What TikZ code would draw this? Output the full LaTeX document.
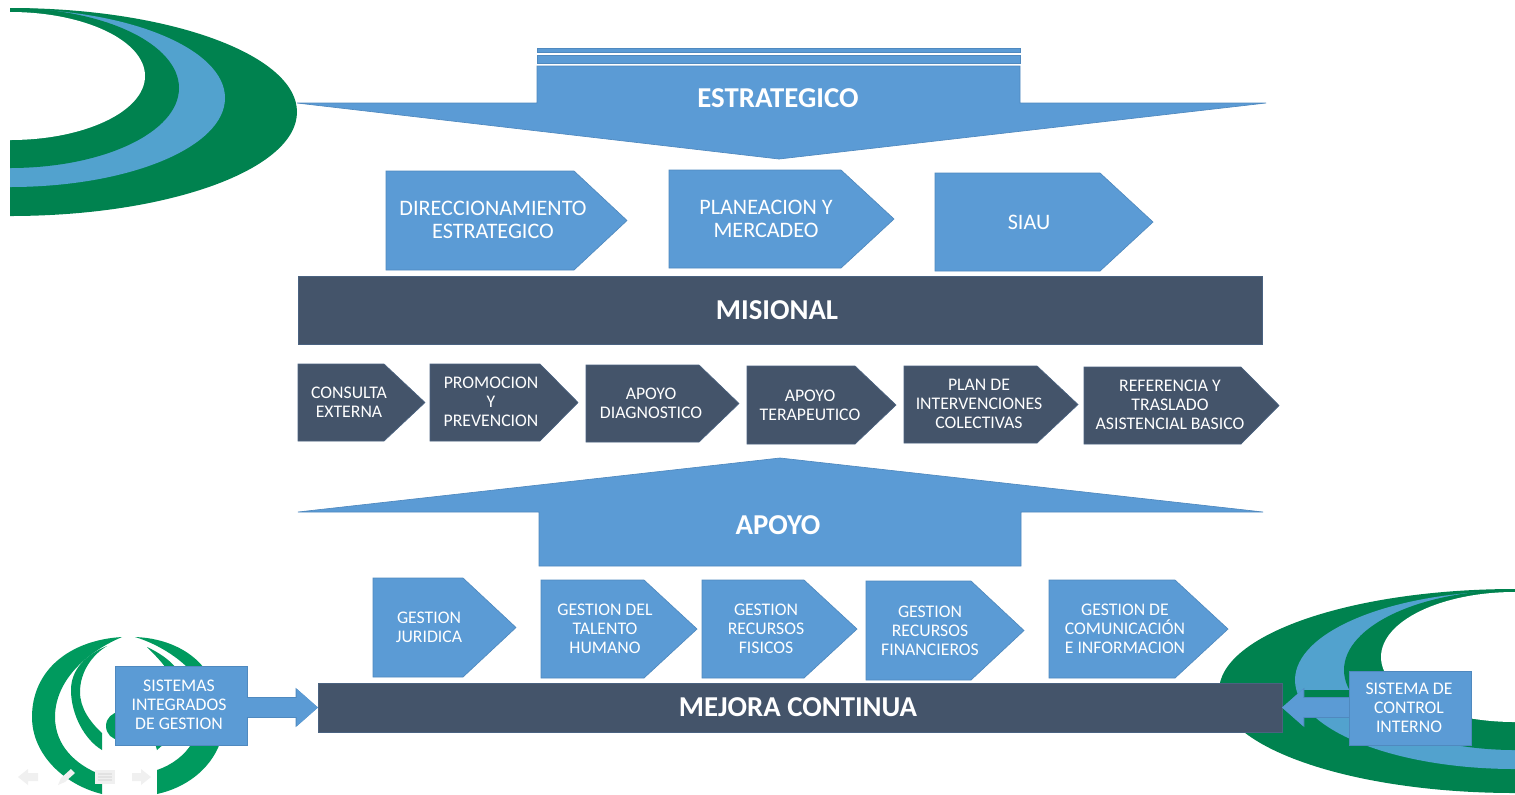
\documentclass[tikz,border=0pt]{standalone}
\usepackage{fontspec}
\setmainfont{Carlito}
\usetikzlibrary{arrows.meta}
\definecolor{pblue}{HTML}{5B9BD5}
\definecolor{pedge}{HTML}{4F89BF}
\definecolor{pdark}{HTML}{44546A}
\definecolor{dedge}{HTML}{4A6280}
\definecolor{lgreen}{HTML}{00824F}
\definecolor{lblue}{HTML}{52A2CE}
\definecolor{cgreen}{HTML}{009A5E}
\definecolor{navgray}{HTML}{F0F0F0}
\definecolor{navline}{HTML}{E2E2E2}
\tikzset{
  x=0.75pt,y=-0.75pt,
  blueshape/.style={fill=pblue,draw=pedge,line width=0.5pt},
  darkshape/.style={fill=pdark,draw=dedge,line width=0.5pt},
  bigtxt/.style={text=white,align=center,font=\fontsize{16.6}{17.3}\selectfont,inner sep=0pt,outer sep=0pt},
  smalltxt/.style={text=white,align=center,font=\fontsize{13.3}{14.2}\selectfont,inner sep=0pt,outer sep=0pt},
  headtxt/.style={text=white,font=\fontsize{21.6}{24}\selectfont\bfseries,inner sep=0pt,outer sep=0pt},
  boxnode/.style={draw=pedge,fill=pblue,line width=0.5pt,inner sep=0pt,outer sep=0pt},
  barnode/.style={draw=dedge,fill=pdark,line width=0.5pt,inner sep=0pt,outer sep=0pt},
  flowarrow/.style={pblue,line width=14.5pt,-{Triangle[length=16pt,width=27pt]},
    preaction={draw=pedge,line width=15.4pt,-{Triangle[length=16.8pt,width=28.5pt]}}},
  navicon/.style={fill=navgray,draw=none}
}
% #1 style, #2 x1, #3 notch, #4 x2, #5 y1, #6 y2
\newcommand{\pentagon}[6]{\pgfmathsetmacro{\ymid}{(#5+#6)/2}\path[#1] (#2,#5) -- (#3,#5) -- (#4,\ymid) -- (#3,#6) -- (#2,#6) -- cycle;}
\begin{document}
\begin{tikzpicture}
\useasboundingbox (0,0) rectangle (1515,794);
\fill[white] (0,0) rectangle (1515,794);
% top-left logo
\begin{scope}
\clip (10,0) rectangle (400,300);
\fill[lgreen] (10,112) ellipse [x radius=287,y radius=104];
\fill[lblue] (10,98) ellipse [x radius=215,y radius=89];
\fill[lgreen] (10,88) ellipse [x radius=169,y radius=80];
\fill[white] (10,76) ellipse [x radius=135,y radius=64];
\end{scope}
% bottom-right logo
\begin{scope}
\clip (1150,560) rectangle (1515,794);
\fill[lgreen] (1515,691) ellipse [x radius=296,y radius=102];
\fill[lblue] (1515,680) ellipse [x radius=220,y radius=89];
\fill[lgreen] (1515,670) ellipse [x radius=171,y radius=80];
\fill[white] (1515,657) ellipse [x radius=134,y radius=65];
\fill[lgreen] (1303,690) rectangle (1350,699);
\end{scope}
% bottom-left logo
\begin{scope}
\fill[cgreen] (122,637) .. controls (70,640) and (32,670) .. (32,717) .. controls (32,755) and (65,785) .. (102,794) -- (102,775) .. controls (75,765) and (55,745) .. (55,717) .. controls (55,685) and (80,655) .. (122,637) -- cycle;
\fill[cgreen] (107,646) .. controls (85,655) and (71,670) .. (71,690) .. controls (71,715) and (85,740) .. (102,750) -- (102,733) .. controls (90,722) and (80,708) .. (80,692) .. controls (80,672) and (92,655) .. (107,646) -- cycle;
\fill[cgreen] (135,637) .. controls (165,638) and (190,650) .. (204,668) -- (188,668) .. controls (175,655) and (155,643) .. (135,637) -- cycle;
\fill[cgreen] (147,647) .. controls (158,652) and (170,660) .. (176,668) -- (166,668) .. controls (160,660) and (153,653) .. (147,647) -- cycle;
\fill[cgreen] (220,743) .. controls (210,770) and (185,788) .. (157,794) -- (157,770) .. controls (172,765) and (185,755) .. (192,743) -- cycle;
\fill[cgreen] (120,726) circle [radius=14];
\fill[cgreen] (155,743) -- (165,743) -- (157,750) -- cycle;
\end{scope}
% ESTRATEGICO
\path[blueshape] (537,48) rectangle (1020,52);
\path[blueshape] (537,55) rectangle (1020,63);
\path[blueshape] (537,66) -- (1020,66) -- (1020,103) -- (1266,103) -- (779,159) -- (297,103) -- (537,103) -- cycle;
\node[headtxt] (estr) at (778,98) {ESTRATEGICO};
% strategic row
\pentagon{blueshape}{386}{574}{627}{171}{270}
\node[bigtxt] (dir) at (493,219.5) {DIRECCIONAMIENTO\\ESTRATEGICO};
\pentagon{blueshape}{669}{841}{894}{170}{268}
\node[bigtxt] (plan) at (766,218.5) {PLANEACION Y\\MERCADEO};
\pentagon{blueshape}{935}{1100}{1153}{173}{271}
\node[bigtxt] (siau) at (1029,222) {SIAU};
% MISIONAL
\node[barnode,minimum width=723pt,minimum height=51pt] (mis) at (780,310) {};
\node[headtxt] (mislabel) at (777,310) {MISIONAL};
\pentagon{darkshape}{298}{384}{425}{364}{441}
\node[smalltxt] (cons) at (349,402) {CONSULTA\\EXTERNA};
\pentagon{darkshape}{430}{540}{578}{364}{441}
\node[smalltxt] (prom) at (491,402) {PROMOCION\\Y\\PREVENCION};
\pentagon{darkshape}{586}{699}{739}{365}{442}
\node[smalltxt] (diag) at (651,403) {APOYO\\DIAGNOSTICO};
\pentagon{darkshape}{747}{855}{896}{366}{444}
\node[smalltxt] (tera) at (810,405) {APOYO\\TERAPEUTICO};
\pentagon{darkshape}{904}{1037}{1078}{366}{443}
\node[smalltxt] (inter) at (979,404) {PLAN DE\\INTERVENCIONES\\COLECTIVAS};
\pentagon{darkshape}{1084}{1241}{1279}{367}{444}
\node[smalltxt] (ref) at (1170,405) {REFERENCIA Y\\TRASLADO\\ASISTENCIAL BASICO};
% APOYO
\path[blueshape] (780,458) -- (1263,512) -- (1021,512) -- (1021,566) -- (539,566) -- (539,512) -- (298,512) -- cycle;
\node[headtxt] (apoyo) at (778,525) {APOYO};
% support row
\pentagon{blueshape}{373}{463}{516}{578}{677}
\node[smalltxt] (jur) at (429,627) {GESTION\\JURIDICA};
\pentagon{blueshape}{541}{644}{697}{580}{678}
\node[smalltxt] (tal) at (605,628.5) {GESTION DEL\\TALENTO\\HUMANO};
\pentagon{blueshape}{702}{804}{857}{580}{678}
\node[smalltxt] (fis) at (766,628.5) {GESTION\\RECURSOS\\FISICOS};
\pentagon{blueshape}{866}{971}{1024}{581}{680}
\node[smalltxt] (fin) at (930,630.5) {GESTION\\RECURSOS\\FINANCIEROS};
\pentagon{blueshape}{1049}{1175}{1228}{580}{678}
\node[smalltxt] (com) at (1125,628.5) {GESTION DE\\COMUNICACIÓN\\E INFORMACION};
% MEJORA CONTINUA
\node[barnode,minimum width=723pt,minimum height=36.75pt] (mej) at (800,707.5) {};
\node[headtxt] (mejlabel) at (798,707) {MEJORA CONTINUA};
% side boxes
\node[boxnode,minimum width=99pt,minimum height=59.25pt] (sis) at (181,705.5) {};
\node[smalltxt] (sislabel) at (179,705) {SISTEMAS\\INTEGRADOS\\DE GESTION};
\node[boxnode,minimum width=91.5pt,minimum height=55.5pt] (ctl) at (1410,708) {};
\node[smalltxt] (ctllabel) at (1409,708) {SISTEMA DE\\CONTROL\\INTERNO};
\draw[flowarrow] (sis.east |- mej.west) -- (mej.west);
\draw[flowarrow] (ctl.west |- mej.east) -- (mej.east);
% navigation icons
\path[navicon] (18,777) -- (28,769) -- (28,773) -- (38,773) -- (38,781) -- (28,781) -- (28,785) -- cycle;
\path[navicon] (58,785) -- (61,778) -- (71,769) -- (75,773) -- (65,782) -- cycle;
\path[navicon] (95,770) rectangle (115,784);
\draw[navline,line width=0.8pt] (98,774) -- (112,774) (98,777) -- (112,777) (98,780) -- (112,780);
\path[navicon] (151,777) -- (141,769) -- (141,773) -- (132,773) -- (132,781) -- (141,781) -- (141,785) -- cycle;
\end{tikzpicture}
\end{document}
